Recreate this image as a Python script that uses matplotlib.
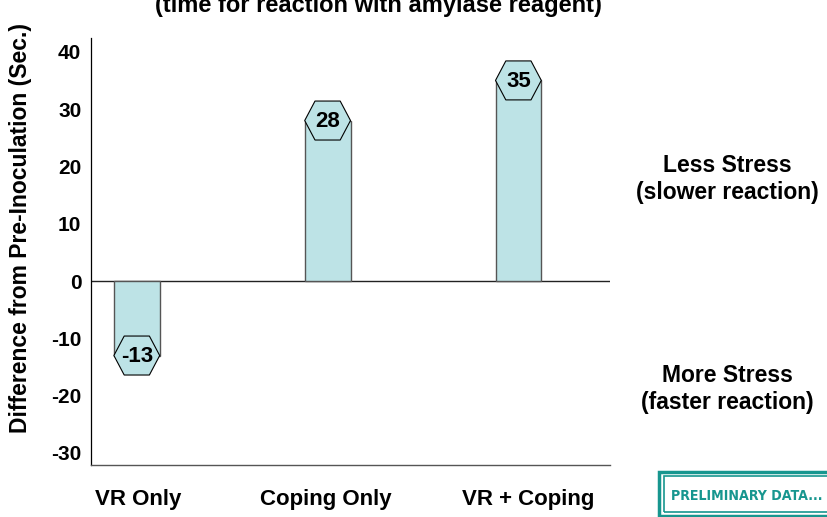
import numpy as np
import matplotlib.pyplot as plt
from matplotlib.patches import Polygon, Rectangle

categories = ['VR Only', 'Coping Only', 'VR + Coping']
values = [-13, 28, 35]
yticks = [-30, -20, -10, 0, 10, 20, 30, 40]

plt.rcParams['font.family'] = ['Liberation Sans', 'DejaVu Sans']
plt.rcParams['font.weight'] = 'bold'

fig = plt.figure(figsize=(8.27, 5.17), dpi=100)
ax = fig.add_axes([91 / 827, 1 - 465 / 517, (610 - 91) / 827, (465 - 38) / 517])

x = np.arange(len(categories))
bw = 0.24
fill = '#bde3e6'

ax.bar(x, values, width=bw, color=fill, edgecolor='#555555', linewidth=1.0, zorder=2)

# hexagon caps at the bar ends
hh = 3.4
for xi, v in zip(x, values):
    verts = [(xi - bw / 2, v), (xi - 0.066, v + hh), (xi + 0.066, v + hh),
             (xi + bw / 2, v), (xi + 0.066, v - hh), (xi - 0.066, v - hh)]
    ax.add_patch(Polygon(verts, closed=True, facecolor=fill, edgecolor='black',
                         linewidth=0.8, zorder=3))
    ax.text(xi, v - 0.2, str(v), ha='center', va='center', fontsize=16,
            fontweight='bold', zorder=4)

ax.axhline(0, color='#222222', linewidth=1.0, zorder=1)
ax.set_xlim(-0.24, 2.48)
ax.set_ylim(-32.1, 42.4)
ax.set_yticks(yticks)
ax.set_yticklabels([str(t) for t in yticks], fontsize=15, fontweight='bold')
ax.tick_params(axis='y', length=0, pad=7)
ax.set_xticks([])
for s in ['top', 'right']:
    ax.spines[s].set_visible(False)
ax.spines['left'].set_linewidth(0.9)
ax.spines['bottom'].set_linewidth(1.0)
ax.spines['bottom'].set_color('#555555')

# category labels
label_x = [138, 326, 528]
for lx, c in zip(label_x, categories):
    fig.text(lx / 827, 1 - 500 / 517, c, ha='center', va='center', fontsize=16,
             fontweight='bold')

fig.text(21 / 827, 1 - 228 / 517, 'Difference from Pre-Inoculation (Sec.)',
         rotation=90, ha='center', va='center', fontsize=16.5, fontweight='bold')

# title line, partly above the top edge as in the original slide
fig.text(378 / 827, 1 - 12 / 517, '(time for reaction with amylase reagent)',
         ha='center', va='baseline', fontsize=17, fontweight='bold')

fig.text(727 / 827, 1 - 179 / 517, 'Less Stress\n(slower reaction)', ha='center',
         va='center', fontsize=16.5, fontweight='bold', linespacing=1.2)
fig.text(727 / 827, 1 - 389 / 517, 'More Stress\n(faster reaction)', ha='center',
         va='center', fontsize=16.5, fontweight='bold', linespacing=1.2)

# preliminary data badge
teal = '#17968f'
fig.patches.append(Rectangle((659 / 827, 1 - 516 / 517), 200 / 827, 44 / 517,
                             transform=fig.transFigure, facecolor='white',
                             edgecolor=teal, linewidth=2.5))
fig.patches.append(Rectangle((664 / 827, 1 - 512 / 517), 200 / 827, 36 / 517,
                             transform=fig.transFigure, facecolor='none',
                             edgecolor=teal, linewidth=1.2))
fig.text(747 / 827, 1 - 496 / 517, 'PRELIMINARY DATA...', ha='center', va='center',
         fontsize=10.2, fontweight='bold', color=teal, fontstretch='condensed',
         family='DejaVu Sans')

fig.savefig('out.png', dpi=100)
